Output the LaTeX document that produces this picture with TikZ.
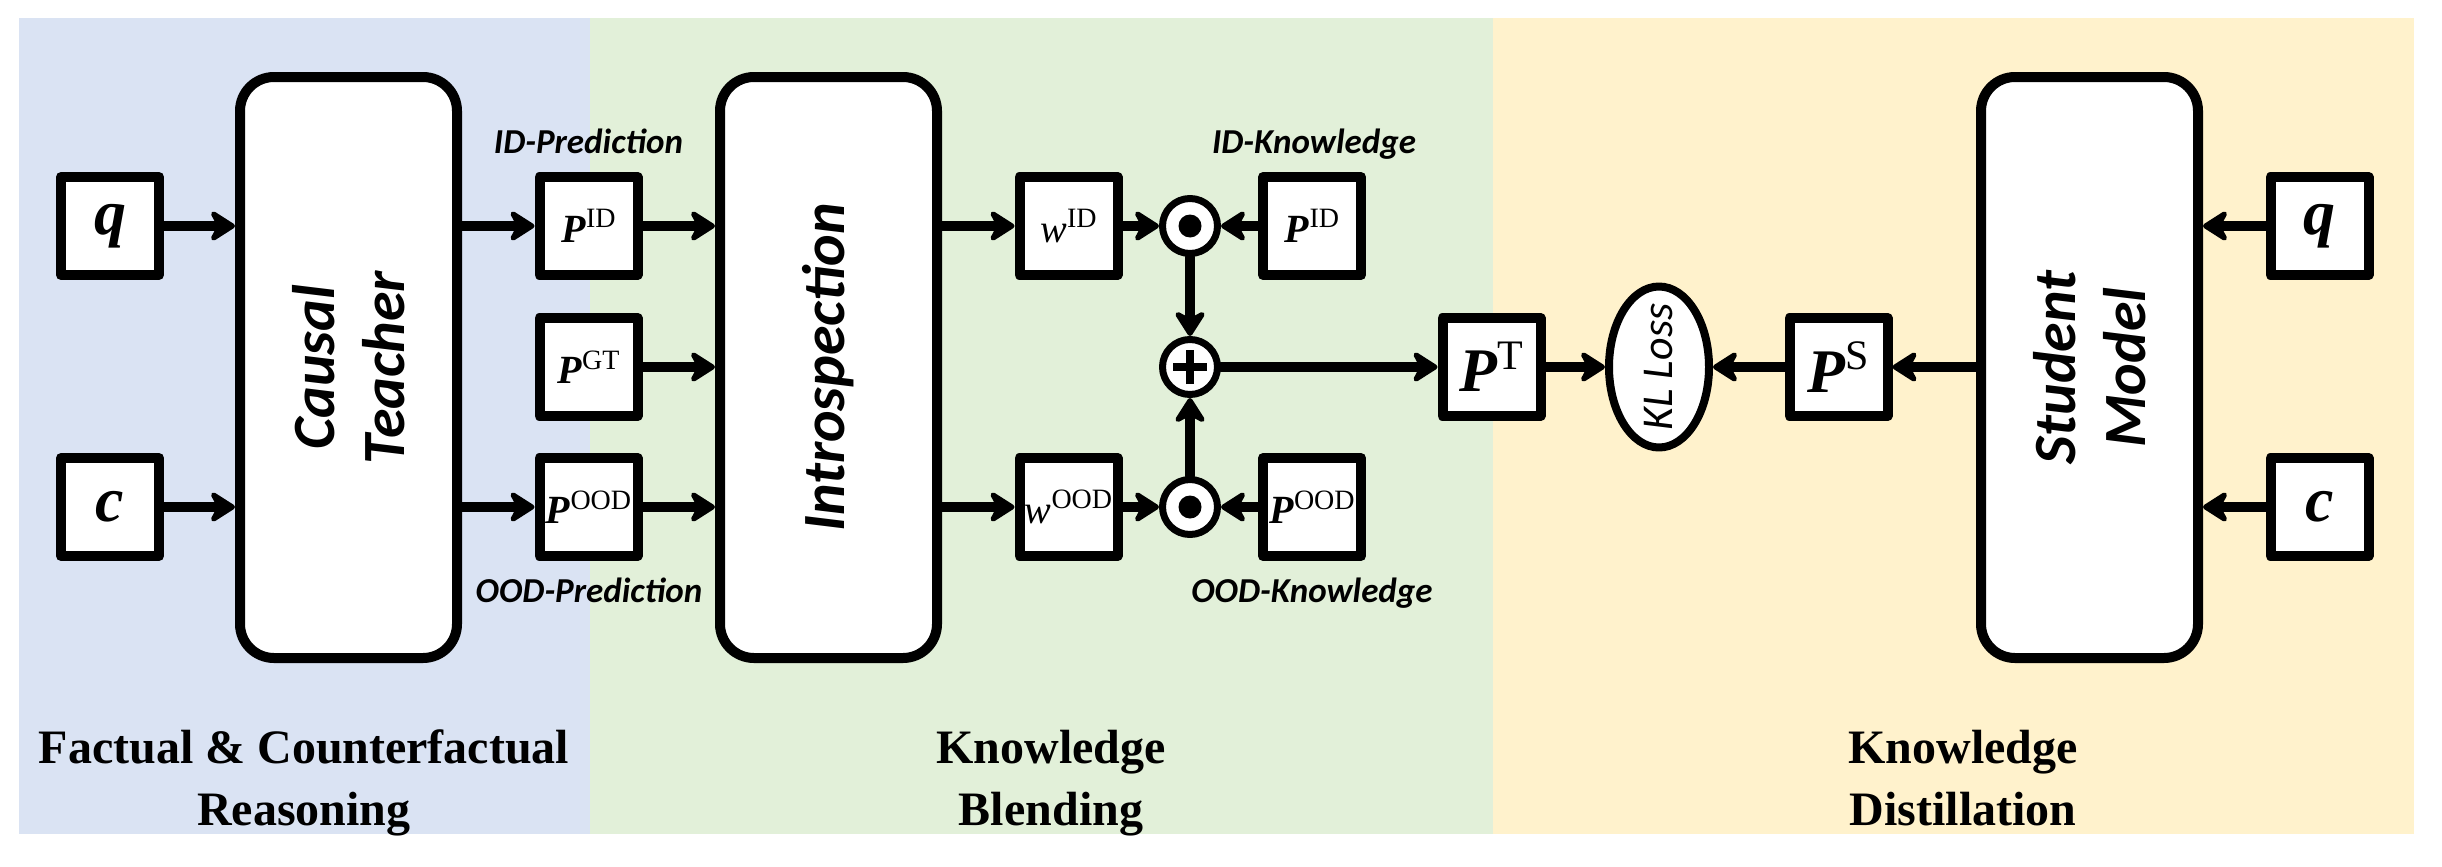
\documentclass[tikz,border=0pt]{standalone}
\usepackage{fontspec}
\setmainfont{Liberation Serif}
\newfontfamily\calibri{Carlito}
\usetikzlibrary{arrows.meta,shapes.geometric}

\definecolor{reasonbg}{HTML}{DAE3F3}
\definecolor{blendbg}{HTML}{E2F0D9}
\definecolor{distilbg}{HTML}{FFF2CC}

\newcommand{\supsz}[2]{\raisebox{0.36em}{\fontsize{#1}{#1}\selectfont #2}}
\newcommand{\probP}[2][14]{\textbf{\textit{P}}\supsz{#1}{#2}}
\newcommand{\wgt}[2][14]{\textit{w}\supsz{#1}{#2}}

\tikzset{
	varbox/.style={draw,line width=5pt,fill=white,inner sep=0pt,
		minimum width=49pt,minimum height=49pt,
		font=\fontsize{20}{22}\selectfont},
	bigvar/.style={varbox,font=\fontsize{31}{33}\selectfont},
	inputvar/.style={varbox,font=\bfseries\itshape\fontsize{32}{34}\selectfont},
	modelbox/.style={draw,line width=5pt,fill=white,rounded corners=17pt,
		minimum width=108.5pt,minimum height=290.5pt,inner sep=0pt},
	modeltext/.style={rotate=90,align=center,inner sep=0pt,
		font=\calibri\bfseries\itshape\fontsize{30}{35}\selectfont},
	opnode/.style={draw,circle,line width=3.5pt,fill=white,
		minimum size=27.5pt,inner sep=0pt},
	dotop/.style={opnode,path picture={
		\fill[black] (path picture bounding box.center) circle (5.75pt);}},
	plusop/.style={opnode,path picture={
		\draw[black,line width=4pt,line cap=butt]
			([xshift=-8.5pt]path picture bounding box.center) -- ([xshift=8.5pt]path picture bounding box.center)
			([yshift=-8.5pt]path picture bounding box.center) -- ([yshift=8.5pt]path picture bounding box.center);}},
	lossnode/.style={draw,ellipse,line width=4pt,fill=white,
		minimum width=50pt,minimum height=80.5pt,inner sep=0pt},
	losstext/.style={rotate=90,inner sep=0pt,
		font=\calibri\itshape\fontsize{22}{24}\selectfont},
	flowlabel/.style={anchor=base,inner sep=0pt,
		font=\calibri\bfseries\itshape\fontsize{17.5}{20}\selectfont},
	stagelabel/.style={anchor=south,align=center,inner sep=0pt,text depth=5pt,
		font=\bfseries\fontsize{24}{31}\selectfont},
	arr/.style={line width=5pt,-{Stealth[length=15pt,width=19pt,inset=5pt,round]}}
}

\begin{document}
\begin{tikzpicture}[
	x=0.5pt,y=-0.5pt,
	line cap=round,
	line join=round
	]
	\useasboundingbox (0,0) rectangle (2442,867);
	% stage backgrounds
	\fill[reasonbg] (19,18) rectangle (590,834);
	\fill[blendbg] (590,18) rectangle (1493,834);
	\fill[distilbg] (1493,18) rectangle (2414,834);

	% factual & counterfactual reasoning
	\node[inputvar] (qL) at (110,226) {q};
	\node[inputvar] (cL) at (110,507) {c};
	\node[modelbox,label={[modeltext]center:Causal\\Teacher}] (teacher) at (348.5,367.5) {};
	\node[varbox] (pIDa) at (588.5,226) {\probP{ID}};
	\node[varbox] (pGT) at (588.5,367) {\probP{GT}};
	\node[varbox] (pOODa) at (588.5,507) {\probP{OOD}};
	\node[flowlabel] at (588.5,153) {ID-Prediction};
	\node[flowlabel] at (589,602) {OOD-Prediction};

	% knowledge blending
	\node[modelbox,label={[modeltext]center:Introspection}] (intro) at (828.5,367.5) {};
	\node[varbox] (wID) at (1068.5,226) {\wgt{ID}};
	\node[varbox] (wOOD) at (1068.5,507) {\wgt{OOD}};
	\node[dotop] (dotID) at (1190,226) {};
	\node[dotop] (dotOOD) at (1190,507) {};
	\node[plusop] (sum) at (1190,367) {};
	\node[varbox] (pIDb) at (1312,226) {\probP{ID}};
	\node[varbox] (pOODb) at (1312,507) {\probP{OOD}};
	\node[flowlabel] at (1314,153) {ID-Knowledge};
	\node[flowlabel] at (1312,602) {OOD-Knowledge};
	\node[bigvar] (pT) at (1491.5,367) {\probP[21]{T}};

	% knowledge distillation
	\node[lossnode,label={[losstext]center:KL Loss}] (kl) at (1659,367) {};
	\node[bigvar] (pS) at (1838.5,367) {\probP[21]{S}};
	\node[modelbox,label={[modeltext]center:Student\\Model}] (student) at (2089.5,367.5) {};
	\node[inputvar] (qR) at (2319.5,226) {q};
	\node[inputvar] (cR) at (2319.5,507) {c};

	% stage names
	\node[stagelabel] at (304,836) {Factual \& Counterfactual\\Reasoning};
	\node[stagelabel] at (1051,836) {Knowledge\\Blending};
	\node[stagelabel] at (1963,836) {Knowledge\\Distillation};

	\begin{scope}[arr]
		\draw (qL.east) -- (qL.east -| teacher.west);
		\draw (cL.east) -- (cL.east -| teacher.west);
		\draw (pIDa -| teacher.east) -- (pIDa);
		\draw (pOODa -| teacher.east) -- (pOODa);
		\draw (pIDa.east) -- (pIDa.east -| intro.west);
		\draw (pGT.east) -- (pGT.east -| intro.west);
		\draw (pOODa.east) -- (pOODa.east -| intro.west);
		\draw (wID -| intro.east) -- (wID);
		\draw (wOOD -| intro.east) -- (wOOD);
		\draw (wID) -- (dotID);
		\draw (pIDb) -- (dotID);
		\draw (wOOD) -- (dotOOD);
		\draw (pOODb) -- (dotOOD);
		\draw (dotID) -- (sum);
		\draw (dotOOD) -- (sum);
		\draw (sum) -- (pT);
		\draw (pT) -- (kl);
		\draw (pS) -- (kl);
		\draw (pS -| student.west) -- (pS);
		\draw (qR.west) -- (qR.west -| student.east);
		\draw (cR.west) -- (cR.west -| student.east);
	\end{scope}
\end{tikzpicture}
\end{document}
